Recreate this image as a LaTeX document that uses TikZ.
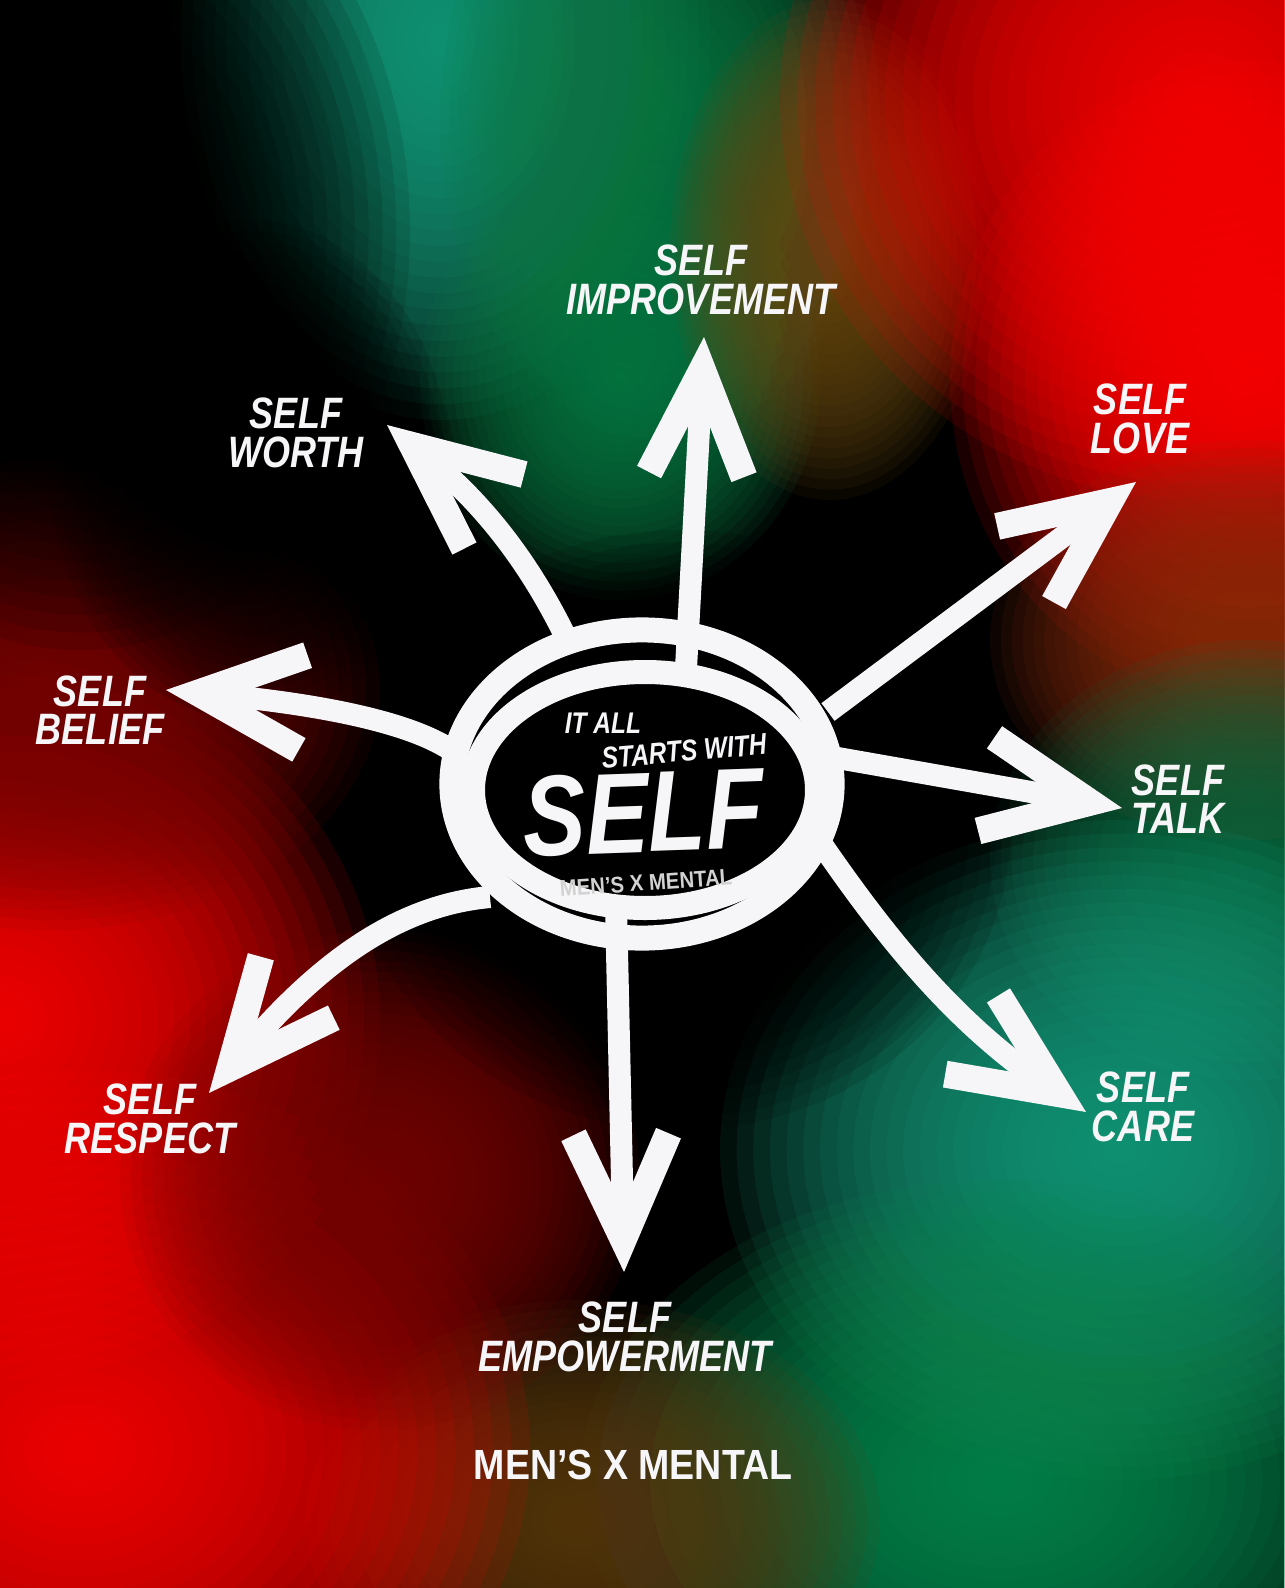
\documentclass[tikz,border=0pt]{standalone}
\usepackage{fontspec}
\usetikzlibrary{arrows.meta, calc, shapes.geometric}
\newfontfamily\brushfont{Liberation Sans}[FakeStretch=0.82]
\newfontfamily\logofont{Liberation Sans}[FakeStretch=0.89]

\definecolor{paper}{HTML}{F6F6F8}
\definecolor{markgray}{HTML}{D2D2D2}
\definecolor{tealglow}{HTML}{17A07F}
\definecolor{greenglow}{HTML}{0C7A45}
\definecolor{oliveglow}{HTML}{6A4A12}
\definecolor{redglow}{HTML}{FF0000}
\definecolor{rustglow}{HTML}{8A2E0E}
\definecolor{deepgreen}{HTML}{0E6A40}
\definecolor{mossglow}{HTML}{0A8A50}
\definecolor{brownglow}{HTML}{5A3A10}
\definecolor{darkred}{HTML}{7A0A05}

\tikzstyle{ring} = [
    ellipse,
    draw=paper,
    line width=0.25cm,
    fill=black,
    minimum width=3.8cm,
    minimum height=3.08cm,
    inner sep=0pt
]
\tikzstyle{selflabel} = [
    text=paper,
    font=\brushfont\bfseries\itshape\fontsize{12.5}{11}\selectfont,
    align=center,
    inner sep=0pt
]
\tikzstyle{inword} = [
    text=paper,
    font=\brushfont\bfseries\itshape\fontsize{8.5}{8.5}\selectfont,
    inner sep=0pt,
    text depth=0pt
]
\tikzstyle{spoke} = [
    draw=paper,
    line width=0.22cm,
    -{Straight Barb[length=1.05cm, width=0.95cm, line width=0.27cm]}
]

\begin{document}
\begin{tikzpicture}[x=0.01cm, y=-0.01cm]
    \useasboundingbox (0,0) rectangle (1284,1588);
    \fill[black] (0,0) rectangle (1284,1588);

    \foreach \c/\x/\y/\rx/\ry in {
        tealglow/440/40/270/380, greenglow/660/120/220/320, greenglow/620/380/200/220,
        oliveglow/830/250/160/250, redglow/1200/100/420/400, redglow/1250/380/300/320,
        rustglow/1250/640/260/200, deepgreen/1250/860/260/220, tealglow/1120/1150/400/330,
        mossglow/1000/1480/420/300, brownglow/580/1520/300/220, redglow/0/1020/380/360,
        redglow/80/1450/450/380, darkred/50/690/330/240, darkred/380/1180/260/250,
        black/680/830/330/300, black/80/230/330/420, black/250/470/200/250}
        \foreach \k in {1,...,24}
            \fill[\c, opacity=0.1] (\x,\y) ellipse [x radius=\rx*\k/24, y radius=\ry*\k/24];

    \node (self) [ring] at (642,784) {};
    \draw[paper, line width=0.24cm] (645,790) ellipse [x radius=172, y radius=118];

    \node (itall) [inword] at (603,723) {IT ALL};
    \node (starts) [inword, rotate=5] at (684,751) {STARTS WITH};
    \node (selfword) [inword, font=\brushfont\bfseries\itshape\fontsize{32.6}{32}\selectfont, rotate=2] at (643,812) {SELF};
    \node (wmark) [text=markgray, font=\logofont\bfseries\fontsize{6.5}{6.5}\selectfont, inner sep=0pt, rotate=4] at (646,883) {MEN’S X MENTAL};

    \node (improve) [selflabel] at (701,280) {SELF\\IMPROVEMENT};
    \node (worth) [selflabel] at (296,433) {SELF\\WORTH};
    \node (love) [selflabel] at (1140,419) {SELF\\LOVE};
    \node (belief) [selflabel] at (100,710) {SELF\\BELIEF};
    \node (talk) [selflabel] at (1178,799) {SELF\\TALK};
    \node (care) [selflabel] at (1143,1107) {SELF\\CARE};
    \node (respect) [selflabel] at (150,1119) {SELF\\RESPECT};
    \node (empower) [selflabel] at (625,1337) {SELF\\EMPOWERMENT};

    \coordinate (improve-s) at (686,668);
    \coordinate (improve-t) at (704,337);
    \coordinate (worth-s) at (572,650);
    \coordinate (worth-t) at (387,425);
    \coordinate (love-s) at (828,712);
    \coordinate (love-t) at (1136,482);
    \coordinate (belief-s) at (458,755);
    \coordinate (belief-t) at (166,690);
    \coordinate (talk-s) at (832,757);
    \coordinate (talk-t) at (1122,808);
    \coordinate (care-s) at (812,830);
    \coordinate (care-t) at (1086,1112);
    \coordinate (respect-s) at (490,897);
    \coordinate (respect-t) at (209,1093);
    \coordinate (empower-s) at (616,905);
    \coordinate (empower-t) at (624,1272);

    \draw [spoke] (improve-s) -- (improve-t);
    \draw [spoke] (worth-s) .. controls (530,560) and (480,500) .. (worth-t);
    \draw [spoke] (love-s) -- (love-t);
    \draw [spoke] (belief-s) .. controls (420,725) and (330,705) .. (belief-t);
    \draw [spoke] (talk-s) -- (talk-t);
    \draw [spoke] (care-s) .. controls (880,930) and (950,1020) .. (care-t);
    \draw [spoke] (respect-s) .. controls (400,905) and (320,960) .. (respect-t);
    \draw [spoke] (empower-s) -- (empower-t);

    \node (brand) [text=paper, font=\logofont\bfseries\fontsize{12}{12}\selectfont, inner sep=0pt] at (633,1465) {MEN’S X MENTAL};
\end{tikzpicture}
\end{document}
